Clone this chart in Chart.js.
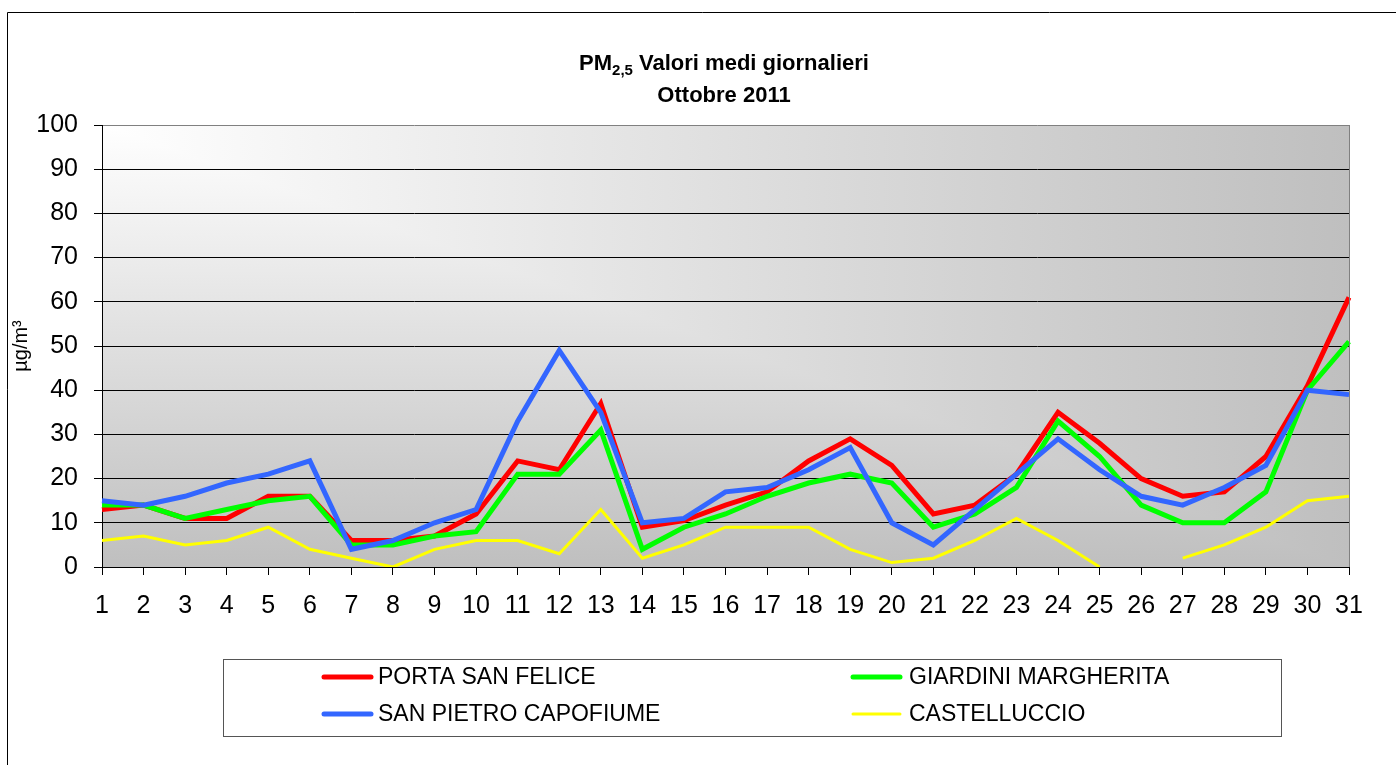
<!DOCTYPE html>
<html>
  <head>
    <title>PM2,5 Valori medi giornalieri - Ottobre 2011</title>
    <script src="https://cdn.jsdelivr.net/npm/chart.js"></script>
    <style>
      body { margin: 0; background: #ffffff; }
      canvas { display: block; }
    </style>
  </head>
  <body>
    <canvas id="myChart" width="1396" height="765"></canvas>
  </body>
</html>
<script>
//------------------------------------------------------------------------------
// data
//------------------------------------------------------------------------------
var days = ['1','2','3','4','5','6','7','8','9','10','11','12','13','14','15','16',
            '17','18','19','20','21','22','23','24','25','26','27','28','29','30','31'];

var portaSanFelice     = [13, 14, 11, 11, 16, 16, 6, 6, 7, 12, 24, 22, 37, 9, 10.5, 14,
                          17, 24, 29, 23, 12, 14, 21, 35, 28, 20, 16, 17, 25, 41, 61];
var giardiniMargherita = [14, 14, 11, 13, 15, 16, 5, 5, 7, 8, 21, 21, 31, 4, 9, 12,
                          16, 19, 21, 19, 9, 12, 18, 33, 25, 14, 10, 10, 17, 40, 51];
var sanPietroCapofiume = [15, 14, 16, 19, 21, 24, 4, 6, 10, 13, 33, 49, 35, 10, 11, 17,
                          18, 22, 27, 10, 5, 13, 21, 29, 22, 16, 14, 18, 23, 40, 39];
var castelluccio       = [6, 7, 5, 6, 9, 4, 2, 0, 4, 6, 6, 3, 13, 2, 5, 9,
                          9, 9, 4, 1, 2, 6, 11, 6, 0, null, 2, 5, 9, 15, 16];

var seriesNames  = ['PORTA SAN FELICE', 'GIARDINI MARGHERITA', 'SAN PIETRO CAPOFIUME', 'CASTELLUCCIO'];
var seriesColors = ['#ff0000', '#00ff00', '#3366ff', '#ffff00'];
var seriesWidths = [5, 5, 5, 3];

var yTicks = [0, 10, 20, 30, 40, 50, 60, 70, 80, 90, 100];

var FONT = '"Liberation Sans", Arial, sans-serif';

//------------------------------------------------------------------------------
// background: outer frame + plot area corner gradient
//------------------------------------------------------------------------------
var backgroundPlugin = {
  id: 'background',
  beforeDraw: function(chart) {
    var ctx = chart.ctx;
    var a = chart.chartArea;
    var w = a.right - a.left;
    var h = a.bottom - a.top;

    ctx.save();
    ctx.strokeStyle = '#000';
    ctx.lineWidth = 1;
    ctx.beginPath();
    ctx.moveTo(7.5, 800);
    ctx.lineTo(7.5, 12.5);
    ctx.lineTo(1400, 12.5);
    ctx.stroke();

    // whole area -> vertical gradient
    var g2 = ctx.createLinearGradient(0, a.top, 0, a.bottom);
    g2.addColorStop(0, '#ffffff');
    g2.addColorStop(1, '#bfbfbf');
    ctx.fillStyle = g2;
    ctx.fillRect(a.left, a.top, w, h);

    // upper right triangle -> horizontal gradient
    ctx.save();
    ctx.beginPath();
    ctx.moveTo(a.left, a.top);
    ctx.lineTo(a.right, a.top);
    ctx.lineTo(a.right, a.bottom);
    ctx.closePath();
    ctx.clip();
    var g1 = ctx.createLinearGradient(a.left, 0, a.right, 0);
    g1.addColorStop(0, '#ffffff');
    g1.addColorStop(1, '#bfbfbf');
    ctx.fillStyle = g1;
    ctx.fillRect(a.left, a.top, w, h);
    ctx.restore();

    ctx.restore();
  },
  afterDraw: function(chart) {
    var ctx = chart.ctx;
    var a = chart.chartArea;
    ctx.save();
    ctx.strokeStyle = '#808080';
    ctx.lineWidth = 1;
    ctx.beginPath();
    ctx.moveTo(Math.round(a.right) + 0.5, a.top);
    ctx.lineTo(Math.round(a.right) + 0.5, a.bottom);
    ctx.stroke();
    ctx.restore();
  }
};

//------------------------------------------------------------------------------
// title with subscript
//------------------------------------------------------------------------------
var titlePlugin = {
  id: 'pmTitle',
  afterDraw: function(chart) {
    var ctx = chart.ctx;
    var cx = 724;
    var big = 'bold 22px ' + FONT;
    var small = 'bold 15px ' + FONT;
    ctx.save();
    ctx.fillStyle = '#000';
    ctx.textBaseline = 'alphabetic';
    ctx.textAlign = 'left';

    ctx.font = big;
    var w1 = ctx.measureText('PM').width;
    var w3 = ctx.measureText(' Valori medi giornalieri').width;
    ctx.font = small;
    var w2 = ctx.measureText('2,5').width;
    var x = cx - (w1 + w2 + w3) / 2;

    ctx.font = big;
    ctx.fillText('PM', x, 70);
    ctx.font = small;
    ctx.fillText('2,5', x + w1, 75);
    ctx.font = big;
    ctx.fillText(' Valori medi giornalieri', x + w1 + w2, 70);

    ctx.textAlign = 'center';
    ctx.fillText('Ottobre 2011', cx, 102);
    ctx.restore();
  }
};

//------------------------------------------------------------------------------
// legend box (2 columns)
//------------------------------------------------------------------------------
var legendPlugin = {
  id: 'boxLegend',
  afterDraw: function(chart) {
    var ctx = chart.ctx;
    var colX = [322, 851];
    var textX = [378, 909];
    var rowY = [677, 714];
    ctx.save();
    ctx.strokeStyle = '#555';
    ctx.lineWidth = 1;
    ctx.strokeRect(223.5, 659.5, 1058, 77);

    ctx.font = '23px ' + FONT;
    ctx.fillStyle = '#000';
    ctx.textBaseline = 'middle';
    ctx.textAlign = 'left';
    for (var i = 0; i < seriesNames.length; i++) {
      var c = i % 2;
      var r = Math.floor(i / 2);
      ctx.strokeStyle = seriesColors[i];
      ctx.lineWidth = seriesWidths[i];
      ctx.lineCap = 'round';
      ctx.beginPath();
      ctx.moveTo(colX[c] + 2, rowY[r]);
      ctx.lineTo(colX[c] + 49, rowY[r]);
      ctx.stroke();
      ctx.fillText(seriesNames[i], textX[c], rowY[r] + 1);
    }
    ctx.restore();
  }
};

//------------------------------------------------------------------------------
// chart
//------------------------------------------------------------------------------
var seriesData = [portaSanFelice, giardiniMargherita, sanPietroCapofiume, castelluccio];
var datasets = [];
for (var i = 0; i < seriesData.length; i++) {
  datasets.push({
    label: seriesNames[i],
    data: seriesData[i],
    borderColor: seriesColors[i],
    backgroundColor: seriesColors[i],
    borderWidth: seriesWidths[i],
    pointRadius: 0,
    tension: 0,
    spanGaps: false,
    borderJoinStyle: 'miter',
    order: seriesData.length - i
  });
}

var ctx = document.getElementById('myChart').getContext('2d');
var chart = new Chart(ctx, {
  type: 'line',
  data: {
    labels: days,
    datasets: datasets
  },
  options: {
    responsive: false,
    animation: false,
    layout: {
      padding: { top: 125, right: 47, bottom: 138, left: 0 }
    },
    plugins: {
      legend: { display: false },
      title: { display: false },
      tooltip: { enabled: false }
    },
    scales: {
      x: {
        offset: false,
        afterFit: function(scale) { scale.height = 60; },
        grid: {
          drawOnChartArea: false,
          drawTicks: true,
          tickLength: 8,
          color: '#000'
        },
        border: { color: '#000', width: 1 },
        ticks: {
          autoSkip: false,
          maxRotation: 0,
          padding: 16,
          color: '#000',
          font: { family: FONT, size: 25 }
        }
      },
      y: {
        min: 0,
        max: 100,
        afterFit: function(scale) { scale.width = 102; },
        afterBuildTicks: function(scale) {
          scale.ticks = yTicks.map(function(v) { return { value: v }; });
        },
        grid: {
          drawTicks: true,
          tickLength: 8,
          color: function(c) { return c.tick && c.tick.value === 100 ? '#808080' : '#000'; },
          tickColor: '#000'
        },
        border: { color: '#000', width: 1 },
        ticks: {
          padding: 16,
          color: '#000',
          font: { family: FONT, size: 25 }
        },
        title: {
          display: true,
          text: 'µg/m³',
          color: '#000',
          font: { family: FONT, size: 20 },
          padding: { top: 9, bottom: 0 }
        }
      }
    }
  },
  plugins: [backgroundPlugin, titlePlugin, legendPlugin]
});
</script>
